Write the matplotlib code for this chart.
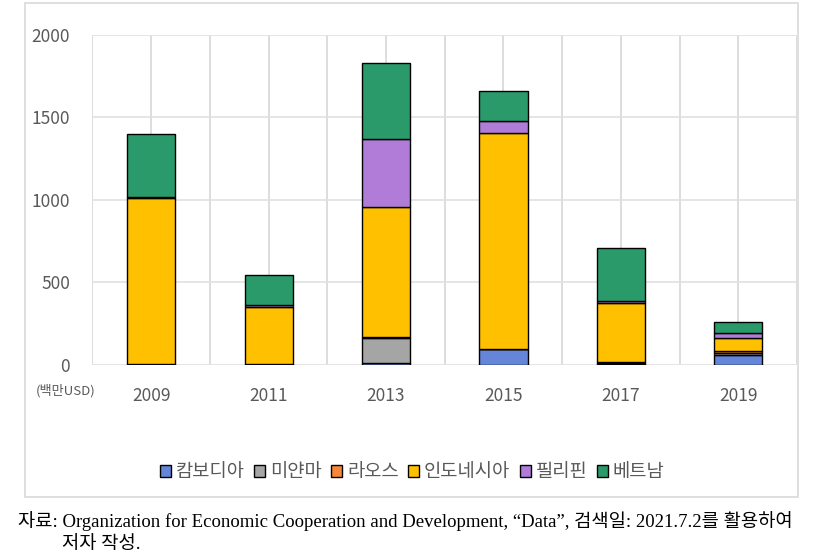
import matplotlib
matplotlib.use("Agg")
import matplotlib.pyplot as plt
import matplotlib.patches as patches
import numpy as np

plt.rcParams['font.family'] = ['Noto Sans CJK KR', 'DejaVu Sans']

years = ['2009', '2011', '2013', '2015', '2017', '2019']
countries = ['캄보디아', '미얀마', '라오스', '인도네시아', '필리핀', '베트남']
cambodia = [3, 3, 15, 95, 5, 63]
myanmar = [5, 5, 150, 2, 10, 12]
laos = [0, 0, 5, 0, 3, 10]
indonesia = [1000, 345, 785, 1305, 358, 80]
philippines = [10, 8, 410, 76, 12, 30]
vietnam = [382, 185, 462, 180, 322, 63]
colors = ['#6585D8', '#A5A5A5', '#F5863A', '#FFC000', '#B07CD8', '#2A9A6B']

series = [cambodia, myanmar, laos, indonesia, philippines, vietnam]

fig = plt.figure(figsize=(8.14, 5.59), dpi=100)
ax = fig.add_axes([0.1136, 0.347, 0.8655, 0.5912])

x = np.arange(len(years)) * 2 + 1
bottom = np.zeros(len(years))
for vals, name, c in zip(series, countries, colors):
    ax.bar(x, vals, width=0.82, bottom=bottom, color=c, edgecolor='black',
           linewidth=1.0, label=name, zorder=3)
    bottom += np.array(vals)

ax.set_xlim(0, 12)
ax.set_ylim(0, 2000)
ax.set_yticks([0, 500, 1000, 1500, 2000])
ax.set_xticks(x)
ax.set_xticklabels(years)
# vertical grid every year (labels only on bar years)
ax.vlines(np.arange(0, 12.5, 1.0), 0, 2000, colors='#DADADA', lw=1.3, zorder=1)
ax.grid(True, which='major', axis='y', color='#E0E0E0', lw=1.2, zorder=0)
ax.tick_params(axis='both', which='both', length=0, colors='#595959', labelsize=12.5)
ax.tick_params(axis='y', pad=16)
ax.tick_params(axis='x', pad=16)
for s in ax.spines.values():
    s.set_visible(False)

fig.text(66 / 814, 1 - 391 / 559, '(백만USD)', fontsize=9.5, color='#595959',
         ha='center', va='center')

handles, labels = ax.get_legend_handles_labels()
fig.legend(handles, labels, loc='center', bbox_to_anchor=(412 / 814, 1 - 472 / 559),
           ncol=6, frameon=False, fontsize=13.5, handlelength=0.6, handleheight=0.6,
           handletextpad=0.25, columnspacing=0.5, labelcolor='#595959')

fig.patches.append(patches.Rectangle((25 / 814, 1 - 497 / 559), 773 / 814, 494 / 559,
                                     transform=fig.transFigure, fill=False,
                                     edgecolor='#D9D9D9', lw=1.2))

foot = ['Liberation Serif', 'Noto Sans CJK KR']
fig.text(18 / 814, 1 - 521 / 559,
         '자료: Organization for Economic Cooperation and Development, \u201cData\u201d, 검색일: 2021.7.2를 활용하여',
         fontsize=13.5, family=foot, va='center', ha='left')
fig.text(62 / 814, 1 - 545 / 559, '저자 작성.', fontsize=13.5, family=foot, va='center', ha='left')

fig.savefig('out.png', dpi=100)
